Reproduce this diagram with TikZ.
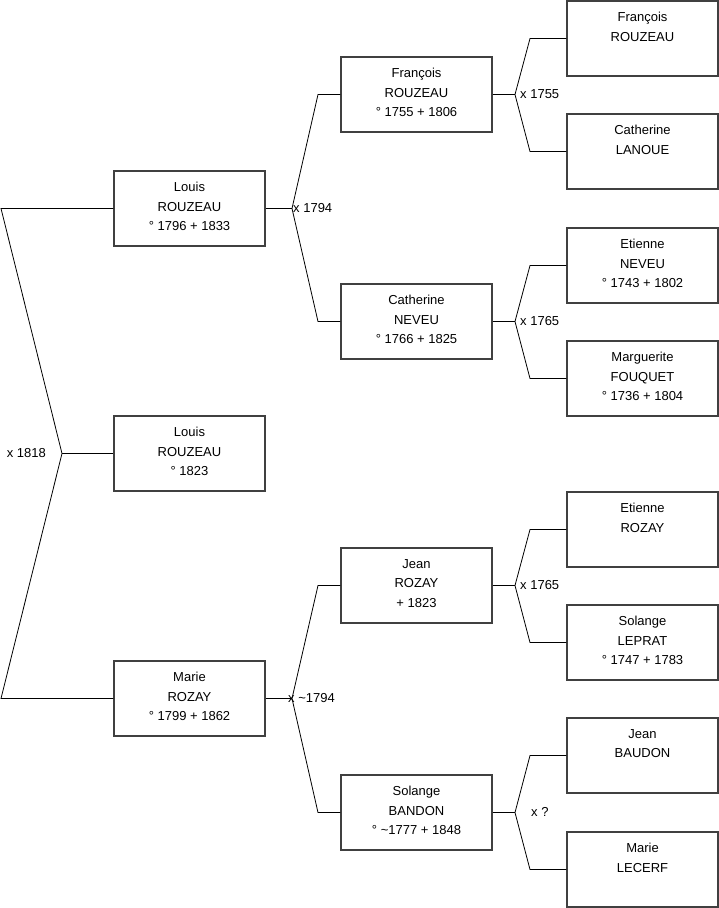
\documentclass[tikz,border=0pt]{standalone}
\usepackage{fontspec}
\setmainfont{Liberation Sans}
\begin{document}
\begin{tikzpicture}[x=1pt,y=-1pt,
  pbox/.style={draw=black!75,line width=1.1pt,minimum width=151pt,minimum height=75pt,inner sep=0pt},
  ptxt/.style={anchor=north,inner sep=0pt,align=center,font=\fontsize{13}{19.5}\selectfont},
  lbl/.style={inner sep=0pt,font=\fontsize{13}{15}\selectfont},
  link/.style={draw=black,line width=0.8pt}]
\useasboundingbox (0,0) rectangle (719,908);
\newcommand\person[4]{%
  \node[pbox] (#1) at (#2,#3) {};
  \node[ptxt] (#1t) at ([yshift=-11.5pt]#1.north) {#4};}
% column 1
\person{a}{189.5}{208.5}{Louis\\ROUZEAU\\° 1796 + 1833}
\person{b}{189.5}{453.5}{Louis\\ROUZEAU\\° 1823}
\person{c}{189.5}{698.5}{Marie\\ROZAY\\° 1799 + 1862}
% column 2
\person{d}{416.5}{94.5}{François\\ROUZEAU\\° 1755 + 1806}
\person{e}{416.5}{321.5}{Catherine\\NEVEU\\° 1766 + 1825}
\person{f}{416.5}{585.5}{Jean\\ROZAY\\+ 1823}
\person{g}{416.5}{812.5}{Solange\\BANDON\\° \textasciitilde1777 + 1848}
% column 3
\person{h}{642.5}{38.5}{François\\ROUZEAU}
\person{i}{642.5}{151.5}{Catherine\\LANOUE}
\person{j}{642.5}{265.5}{Etienne\\NEVEU\\° 1743 + 1802}
\person{k}{642.5}{378.5}{Marguerite\\FOUQUET\\° 1736 + 1804}
\person{l}{642.5}{529.5}{Etienne\\ROZAY}
\person{m}{642.5}{642.5}{Solange\\LEPRAT\\° 1747 + 1783}
\person{n}{642.5}{755.5}{Jean\\BAUDON}
\person{o}{642.5}{869.5}{Marie\\LECERF}
% fork 1
\coordinate (f1) at (62,453.5);
\coordinate (f1a) at (1,208.5);
\coordinate (f1b) at (1,698.5);
\draw[link] (a.west) -- (f1a) -- (f1) -- (f1b) -- (c.west);
\draw[link] (f1) -- (b.west);
\node[lbl,anchor=east] (l1) at (46,453.5) {x 1818};
% fork 2
\coordinate (f2) at (292,208.5);
\coordinate (f2a) at (318,94.5);
\coordinate (f2b) at (318,321.5);
\draw[link] (d.west) -- (f2a) -- (f2) -- (f2b) -- (e.west);
\draw[link] (a.east) -- (f2);
\node[lbl,anchor=west] (l2) at (293,208.5) {x 1794};
% fork 3
\coordinate (f3) at (292,698.5);
\coordinate (f3a) at (318,585.5);
\coordinate (f3b) at (318,812.5);
\draw[link] (f.west) -- (f3a) -- (f3) -- (f3b) -- (g.west);
\draw[link] (c.east) -- (f3);
\node[lbl,anchor=west] (l3) at (288,698.5) {x \textasciitilde1794};
% fork 4
\coordinate (f4) at (515,94.5);
\coordinate (f4a) at (530,38.5);
\coordinate (f4b) at (530,151.5);
\draw[link] (h.west) -- (f4a) -- (f4) -- (f4b) -- (i.west);
\draw[link] (d.east) -- (f4);
\node[lbl,anchor=west] (l4) at (520,94.5) {x 1755};
% fork 5
\coordinate (f5) at (515,321.5);
\coordinate (f5a) at (530,265.5);
\coordinate (f5b) at (530,378.5);
\draw[link] (j.west) -- (f5a) -- (f5) -- (f5b) -- (k.west);
\draw[link] (e.east) -- (f5);
\node[lbl,anchor=west] (l5) at (520,321.5) {x 1765};
% fork 6
\coordinate (f6) at (515,585.5);
\coordinate (f6a) at (530,529.5);
\coordinate (f6b) at (530,642.5);
\draw[link] (l.west) -- (f6a) -- (f6) -- (f6b) -- (m.west);
\draw[link] (f.east) -- (f6);
\node[lbl,anchor=west] (l6) at (520,585.5) {x 1765};
% fork 7
\coordinate (f7) at (515,812.5);
\coordinate (f7a) at (530,755.5);
\coordinate (f7b) at (530,869.5);
\draw[link] (n.west) -- (f7a) -- (f7) -- (f7b) -- (o.west);
\draw[link] (g.east) -- (f7);
\node[lbl,anchor=west] (l7) at (531,811.5) {x ?};
\end{tikzpicture}
\end{document}
